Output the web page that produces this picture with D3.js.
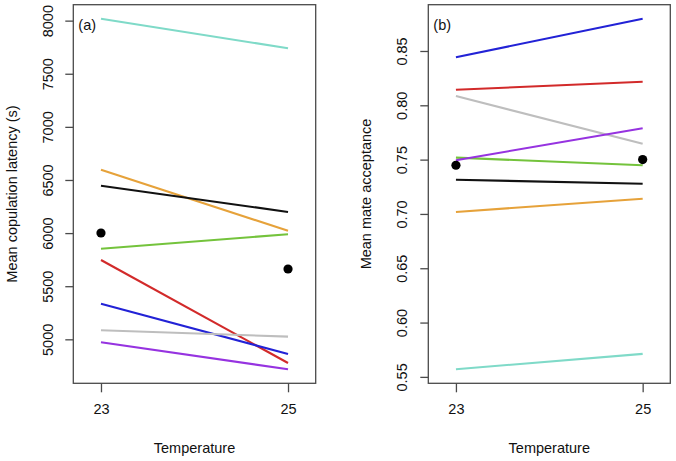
<!DOCTYPE html>
<html>
<head>
<meta charset="utf-8">
<script src="https://cdn.jsdelivr.net/npm/d3@7"></script>
<style>
  body { margin: 0; background: #fff; }
  svg { display: block; font-family: "Liberation Sans", Arial, Helvetica, sans-serif; }
</style>
</head>
<body>
<svg id="chart" width="676" height="461"></svg>
<script>
// ---- data ----
const temperatures = [23, 25];
const seriesNames = ["cyan", "orange", "black", "green", "red", "blue", "gray", "purple"];
const seriesColors = ["#7fdac8", "#e6a23a", "#111111", "#74c33c", "#d22a2a", "#2222d6", "#bebebe", "#9633e0"];

// panel (a): mean copulation latency (s)
const latencyValues = [
  [8018, 7740],
  [6597, 6022],
  [6446, 6199],
  [5853, 5989],
  [5747, 4777],
  [5335, 4862],
  [5085, 5025],
  [4972, 4718]
];
const latencyMeans = [6001, 5662];
const latencyTicks = [5000, 5500, 6000, 6500, 7000, 7500, 8000];

// panel (b): mean mate acceptance
const acceptanceValues = [
  [0.557, 0.5712],
  [0.7018, 0.714],
  [0.7315, 0.7278],
  [0.7518, 0.7448],
  [0.8143, 0.8217],
  [0.8442, 0.8797],
  [0.8085, 0.7646],
  [0.7495, 0.7788]
];
const acceptanceMeans = [0.7448, 0.750];
const acceptanceTicks = [0.55, 0.60, 0.65, 0.70, 0.75, 0.80, 0.85];

const xTicks = [23, 25];

// ---- drawing ----
const svg = d3.select("#chart");
const plotTop = 4.7, plotBottom = 383.3;
const fontSize = 14.5;

function extend(lo, hi) { const r = hi - lo; return [lo - 0.04 * r, hi + 0.04 * r]; }

function panel(opts) {
  const g = svg.append("g");
  const x = d3.scaleLinear().domain(extend(22.8, 25.2)).range([opts.left, opts.right]);
  const allV = opts.values.flat();
  const y = d3.scaleLinear().domain(extend(d3.min(allV), d3.max(allV))).range([plotBottom, plotTop]);

  // lines
  const line = d3.line().x((d, i) => x(temperatures[i])).y(d => y(d));
  g.selectAll("path.series").data(opts.values).join("path")
    .attr("class", "series")
    .attr("d", d => line(d))
    .attr("fill", "none")
    .attr("stroke", (d, i) => seriesColors[i])
    .attr("stroke-width", 2.1);

  // means
  g.selectAll("circle.mean").data(opts.means).join("circle")
    .attr("class", "mean")
    .attr("cx", (d, i) => x(temperatures[i]))
    .attr("cy", d => y(d))
    .attr("r", 4.6)
    .attr("fill", "#000");

  // box
  g.append("rect")
    .attr("x", opts.left).attr("y", plotTop)
    .attr("width", opts.right - opts.left).attr("height", plotBottom - plotTop)
    .attr("fill", "none").attr("stroke", "#4a4a4a").attr("stroke-width", 1.3);

  // y axis
  const yAxis = d3.axisLeft(y).tickValues(opts.yTicks).tickSize(8).tickPadding(4)
    .tickFormat(opts.yFormat);
  const ya = g.append("g").attr("transform", `translate(${opts.left},0)`).call(yAxis);
  ya.select(".domain").remove();
  ya.selectAll(".tick line").attr("stroke", "#4a4a4a").attr("stroke-width", 1.3);
  ya.selectAll(".tick text")
    .attr("x", null).attr("dy", null)
    .attr("transform", `translate(${opts.yLabelX - opts.left},0) rotate(-90)`)
    .attr("text-anchor", "middle")
    .attr("dominant-baseline", "central")
    .attr("font-size", fontSize)
    .attr("fill", "#111");

  // x axis
  const xAxis = d3.axisBottom(x).tickValues(xTicks).tickSize(9).tickPadding(11)
    .tickFormat(d3.format("d"));
  const xa = g.append("g").attr("transform", `translate(0,${plotBottom})`).call(xAxis);
  xa.select(".domain").remove();
  xa.selectAll(".tick line").attr("stroke", "#4a4a4a").attr("stroke-width", 1.3);
  xa.selectAll(".tick text").attr("font-size", fontSize).attr("fill", "#111");

  // axis titles
  g.append("text")
    .attr("x", (opts.left + opts.right) / 2).attr("y", 453)
    .attr("text-anchor", "middle").attr("font-size", fontSize).attr("fill", "#111")
    .text("Temperature");
  g.append("text")
    .attr("transform", `translate(${opts.titleX},${(plotTop + plotBottom) / 2}) rotate(-90)`)
    .attr("text-anchor", "middle").attr("font-size", fontSize).attr("fill", "#111")
    .text(opts.yTitle);

  // panel label
  g.append("text")
    .attr("x", opts.left + 5).attr("y", 30)
    .attr("font-size", fontSize).attr("fill", "#111")
    .text(opts.label);
}

panel({
  left: 73.3, right: 315.7,
  values: latencyValues, means: latencyMeans, yTicks: latencyTicks,
  yFormat: d3.format("d"), yLabelX: 47.5, titleX: 17,
  yTitle: "Mean copulation latency (s)", label: "(a)"
});

panel({
  left: 428.3, right: 670.3,
  values: acceptanceValues, means: acceptanceMeans, yTicks: acceptanceTicks,
  yFormat: d3.format(".2f"), yLabelX: 402, titleX: 371,
  yTitle: "Mean mate acceptance", label: "(b)"
});
</script>
</body>
</html>
